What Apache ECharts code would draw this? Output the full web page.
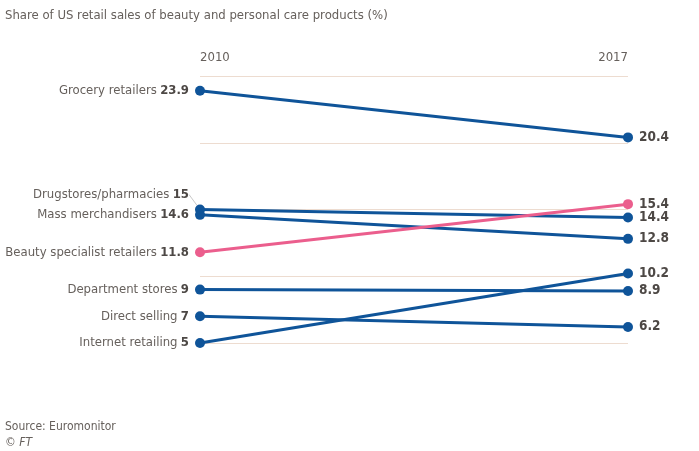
<!DOCTYPE html>
<html>
<head>
<meta charset="utf-8">
<script src="https://cdn.jsdelivr.net/npm/echarts@6/dist/echarts.min.js"></script>
<style>
  html,body{margin:0;padding:0;background:#fff;}
  #chart{width:699px;height:451px;}
</style>
</head>
<body>
<div id="chart"></div>
<script>
var years = ['2010', '2017'];
var names = ['Grocery retailers', 'Drugstores/pharmacies', 'Mass merchandisers', 'Beauty specialist retailers', 'Department stores', 'Direct selling', 'Internet retailing'];
var v2010 = [23.9, 15, 14.6, 11.8, 9, 7, 5];
var v2017 = [20.4, 14.4, 12.8, 15.4, 8.9, 6.2, 10.2];
var yTicks = [5, 10, 15, 20, 25];

var blue = '#0f5499';
var pink = '#eb5e8d';
var txt = '#66605c';
var font = '"Liberation Sans Narrow", "DejaVu Sans Condensed", sans-serif';

var chart = echarts.init(document.getElementById('chart'));

var series = [];
for (var i = 0; i < names.length; i++) {
  var col = i == 3 ? pink : blue;
  series.push({
    name: names[i],
    type: 'line',
    symbol: 'circle',
    symbolSize: 10,
    lineStyle: {color: col, width: 3},
    itemStyle: {color: col},
    z: i == 3 ? 5 : 3,
    labelLine: {show: i == 1, lineStyle: {color: '#c8c8c8', width: 1}},
    labelLayout: (i == 1) ? function (p) { return p.dataIndex == 0 ? {dy: -15} : {}; } : null,
    data: [
      {
        value: v2010[i],
        label: {
          show: true, position: 'left', distance: 6,
          formatter: '{n|' + names[i] + '} {b|' + v2010[i] + '}',
          rich: {
            n: {color: txt, fontSize: 13, fontFamily: font},
            b: {color: '#4d4845', fontSize: 13, fontWeight: 'bold', fontFamily: font}
          }
        }
      },
      {
        value: v2017[i],
        labelLine: {show: false},
        label: {
          show: true, position: 'right', distance: 6,
          formatter: '{b|' + v2017[i] + '}',
          rich: {
            b: {color: '#4d4845', fontSize: 13.5, fontWeight: 'bold', fontFamily: font}
          }
        }
      }
    ]
  });
}

var option = {
  backgroundColor: '#fff',
  animation: false,
  title: [
    {text: 'Share of US retail sales of beauty and personal care products (%)', left: 0, top: 4,
     textStyle: {color: txt, fontSize: 13, fontWeight: 'normal', fontFamily: font}},
    {text: 'Source: Euromonitor', left: 0, top: 416,
     textStyle: {color: txt, fontSize: 12, fontWeight: 'normal', fontFamily: font}},
    {text: '© FT', left: 0, top: 432,
     textStyle: {color: txt, fontSize: 12, fontWeight: 'normal', fontStyle: 'italic', fontFamily: font}}
  ],
  grid: {left: 200, right: 71, top: 76, bottom: 108},
  xAxis: {
    type: 'category',
    data: years,
    boundaryGap: false,
    position: 'top',
    axisLine: {show: false},
    axisTick: {show: false},
    splitLine: {show: false},
    axisLabel: {color: txt, fontSize: 13, fontFamily: font, margin: 12,
      alignMinLabel: 'left', alignMaxLabel: 'right'}
  },
  yAxis: {
    type: 'value',
    min: yTicks[0],
    max: yTicks[yTicks.length - 1],
    interval: 5,
    axisLine: {show: false},
    axisTick: {show: false},
    axisLabel: {show: false},
    splitLine: {lineStyle: {color: '#eddcd0', width: 1}}
  },
  series: series
};
chart.setOption(option);
</script>
</body>
</html>
